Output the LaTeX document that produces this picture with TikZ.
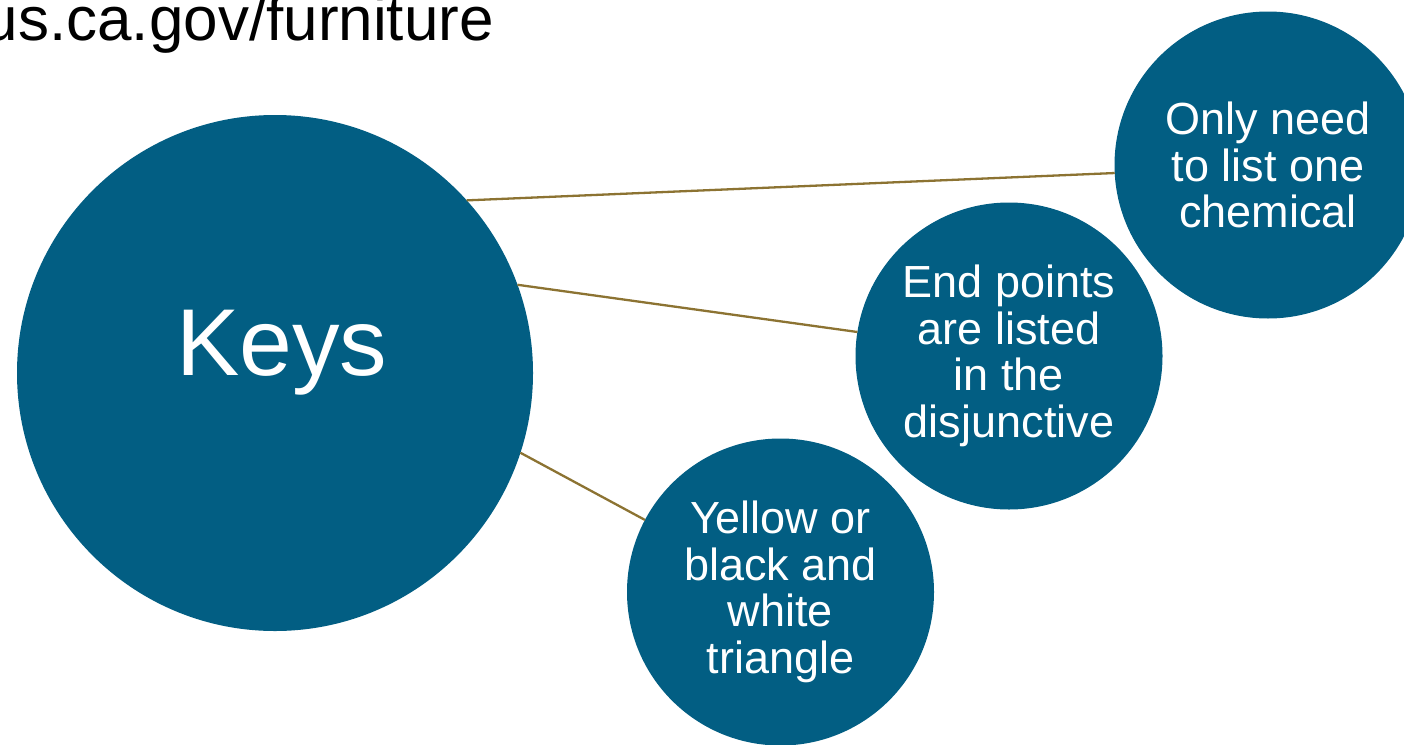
\documentclass[tikz,border=0pt]{standalone}
\usepackage{fontspec}
\setmainfont{Liberation Sans}

\definecolor{bubble}{RGB}{2,94,131}
\definecolor{gold}{RGB}{140,115,50}

\begin{document}
\begin{tikzpicture}[x=1pt, y=-1pt,
    bub/.style={circle, fill=bubble, inner sep=0pt, outer sep=0pt, text=white,
      align=center, font=\fontsize{45}{46.7}\selectfont},
    link/.style={draw=gold, line width=2.3pt}]
    \useasboundingbox (0,0) rectangle (1404,744);
    \clip (0,0) rectangle (1404,744);
    \node[anchor=base east, inner sep=0pt, font=\fontsize{62}{70}\selectfont] (url) at (494,40) {us.ca.gov/furniture};
    \node[bub, minimum size=516pt] (K) at (275,373) {};
    \node[text=white, font=\fontsize{95}{100}\selectfont, anchor=base] (Ktext) at (281.7,375) {Keys};
    \node[bub, minimum size=307pt] (C1) at (1268,165) {Only need\\to list one\\chemical};
    \node[bub, minimum size=307pt] (C2) at (1009,356) {End points\\are listed\\in the\\disjunctive};
    \node[bub, minimum size=307pt] (C3) at (780.5,592) {Yellow or\\black and\\white\\triangle};
    \draw (K.42) edge[link] (C1.183);
    \draw (K.20) edge[link] (C2.171);
    \draw (K.-18) edge[link] (C3.152);
\end{tikzpicture}
\end{document}
